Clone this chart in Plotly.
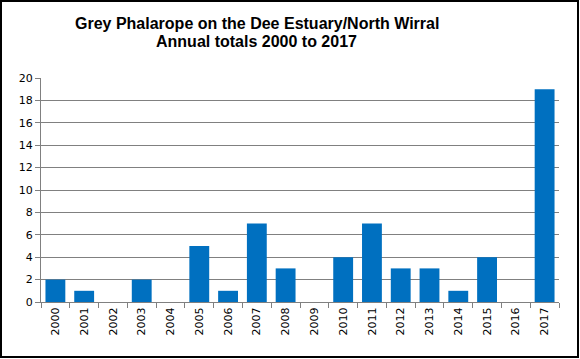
import plotly.graph_objects as go

years = [str(y) for y in range(2000, 2018)]
totals = [2, 1, 0, 2, 0, 5, 1, 7, 3, 0, 4, 7, 3, 3, 1, 4, 0, 19]
y_ticks = list(range(0, 21, 2))
title_lines = ["Grey Phalarope on the Dee Estuary/North Wirral", "Annual totals 2000 to 2017"]

L, R, T, B = 41, 21, 78, 57
W, H = 580, 359
pw = W - L - R
ph = H - T - B


def px_x(x):
    return (x - L) / pw


def px_y(y):
    return (H - B - y) / ph


fig = go.Figure(go.Bar(x=years, y=totals, marker=dict(color="#0070C0", line=dict(width=0)), width=0.69))

fig.update_layout(
    width=W, height=H,
    margin=dict(l=L, r=R, t=T, b=B, autoexpand=False),
    paper_bgcolor="white", plot_bgcolor="white",
    showlegend=False,
    font=dict(family="DejaVu Sans", size=11, color="black"),
    bargap=0.3,
)
for txt, cx, cy in [(title_lines[0], 257, 23.5), (title_lines[1], 256, 41)]:
    fig.add_annotation(
        text="<b>" + txt + "</b>", xref="paper", yref="paper",
        x=px_x(cx), y=px_y(cy), xanchor="center", yanchor="middle",
        showarrow=False,
        font=dict(family="Liberation Sans, Arial", size=16, color="black"),
    )
fig.update_xaxes(
    type="category", tickangle=-90, tickson="boundaries",
    ticks="outside", ticklen=5, tickcolor="#808080",
    showline=True, linecolor="#808080", linewidth=1,
    showgrid=False, tickfont=dict(family="DejaVu Sans", size=11),
)
fig.update_yaxes(
    range=[0, 20], tickvals=y_ticks,
    ticks="outside", ticklen=5, tickcolor="#808080",
    showline=True, linecolor="#808080", linewidth=1,
    showgrid=True, gridcolor="#808080", gridwidth=1,
    zeroline=False, tickfont=dict(family="DejaVu Sans", size=11),
)
fig.add_shape(
    type="rect", xref="paper", yref="paper",
    x0=px_x(1), x1=px_x(W - 2),
    y0=px_y(H - 2), y1=px_y(1),
    line=dict(color="black", width=2), fillcolor="rgba(0,0,0,0)", layer="above",
)

fig.write_html(
    "out.html",
    config={"displayModeBar": False},
    post_script="document.body.style.margin='0';document.body.style.overflow='hidden';",
)
